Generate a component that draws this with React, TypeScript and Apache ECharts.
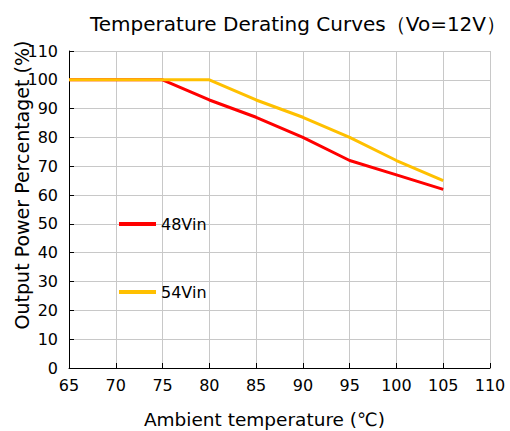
import React, { useEffect, useRef } from "react";
import * as echarts from "echarts";

const temps = [65, 70, 75, 80, 85, 90, 95, 100, 105];
const vin48 = [100, 100, 100, 93, 87, 80, 72, 67, 62];
const vin54 = [100, 100, 100, 100, 93, 87, 80, 72, 65];
const seriesNames = ["48Vin", "54Vin"];
const colors = ["#ff0000", "#ffc000"];
const yAxisTitle = "Output Power Percentaget (%)";

const FONT = "DejaVu Sans";

export default function App() {
  const ref = useRef<HTMLDivElement>(null);
  useEffect(() => {
    if (!ref.current) return;
    const chart = echarts.init(ref.current, undefined, { renderer: "svg" });
    const mk = (vals: number[]) => temps.map((t, i) => [t, vals[i]]);
    const legendCommon = {
      left: 119,
      padding: 0,
      icon: "rect",
      itemWidth: 37,
      itemHeight: 4,
      itemGap: 4,
      textStyle: { fontFamily: FONT, fontSize: 16, color: "#000" },
    };
    chart.setOption({
      animation: false,
      backgroundColor: "#ffffff",
      title: {
        text: "Temperature Derating Curves（Vo=12V）",
        left: 293,
        textAlign: "center",
        top: 9,
        textStyle: { fontFamily: FONT, fontSize: 20, fontWeight: "normal", color: "#000" },
      },
      legend: [
        { ...legendCommon, data: [seriesNames[0]], top: 216 },
        { ...legendCommon, data: [seriesNames[1]], top: 284 },
      ],
      graphic: [
        {
          type: "text",
          x: 22,
          y: 185,
          rotation: Math.PI / 2,
          style: {
            text: yAxisTitle,
            fontFamily: FONT,
            fontSize: 19,
            fill: "#000",
            align: "center",
            verticalAlign: "middle",
          },
        },
      ],
      grid: { left: 69, right: 20, top: 51, bottom: 63, containLabel: false, outerBoundsMode: "none" },
      xAxis: {
        type: "value",
        min: 65,
        max: 110,
        interval: 5,
        name: "Ambient temperature (℃)",
        nameLocation: "middle",
        nameGap: 42,
        nameTextStyle: { fontFamily: FONT, fontSize: 18.5, color: "#000", padding: [0, 30, 0, 0] },
        axisLine: { lineStyle: { color: "#000", width: 1 } },
        axisTick: { inside: true, length: 5, lineStyle: { color: "#000" } },
        axisLabel: { fontFamily: FONT, fontSize: 16, color: "#000", margin: 9 },
        splitLine: { show: true, lineStyle: { color: "#c8c8c8", width: 1 } },
      },
      yAxis: {
        type: "value",
        min: 0,
        max: 110,
        interval: 10,
        axisLine: { show: true, lineStyle: { color: "#000", width: 1 } },
        axisTick: { show: true, inside: true, length: 5, lineStyle: { color: "#000" } },
        axisLabel: { fontFamily: FONT, fontSize: 16, color: "#000", margin: 11 },
        splitLine: { show: true, lineStyle: { color: "#c8c8c8", width: 1 } },
      },
      series: [
        {
          name: seriesNames[0],
          type: "line",
          data: mk(vin48),
          symbol: "none",
          lineStyle: { color: colors[0], width: 3 },
          itemStyle: { color: colors[0] },
          z: 2,
        },
        {
          name: seriesNames[1],
          type: "line",
          data: mk(vin54),
          symbol: "none",
          lineStyle: { color: colors[1], width: 3 },
          itemStyle: { color: colors[1] },
          z: 3,
        },
      ],
    });
    return () => chart.dispose();
  }, []);
  return <div ref={ref} style={{ width: 510, height: 431, position: "absolute", left: 0, top: 0 }} />;
}
